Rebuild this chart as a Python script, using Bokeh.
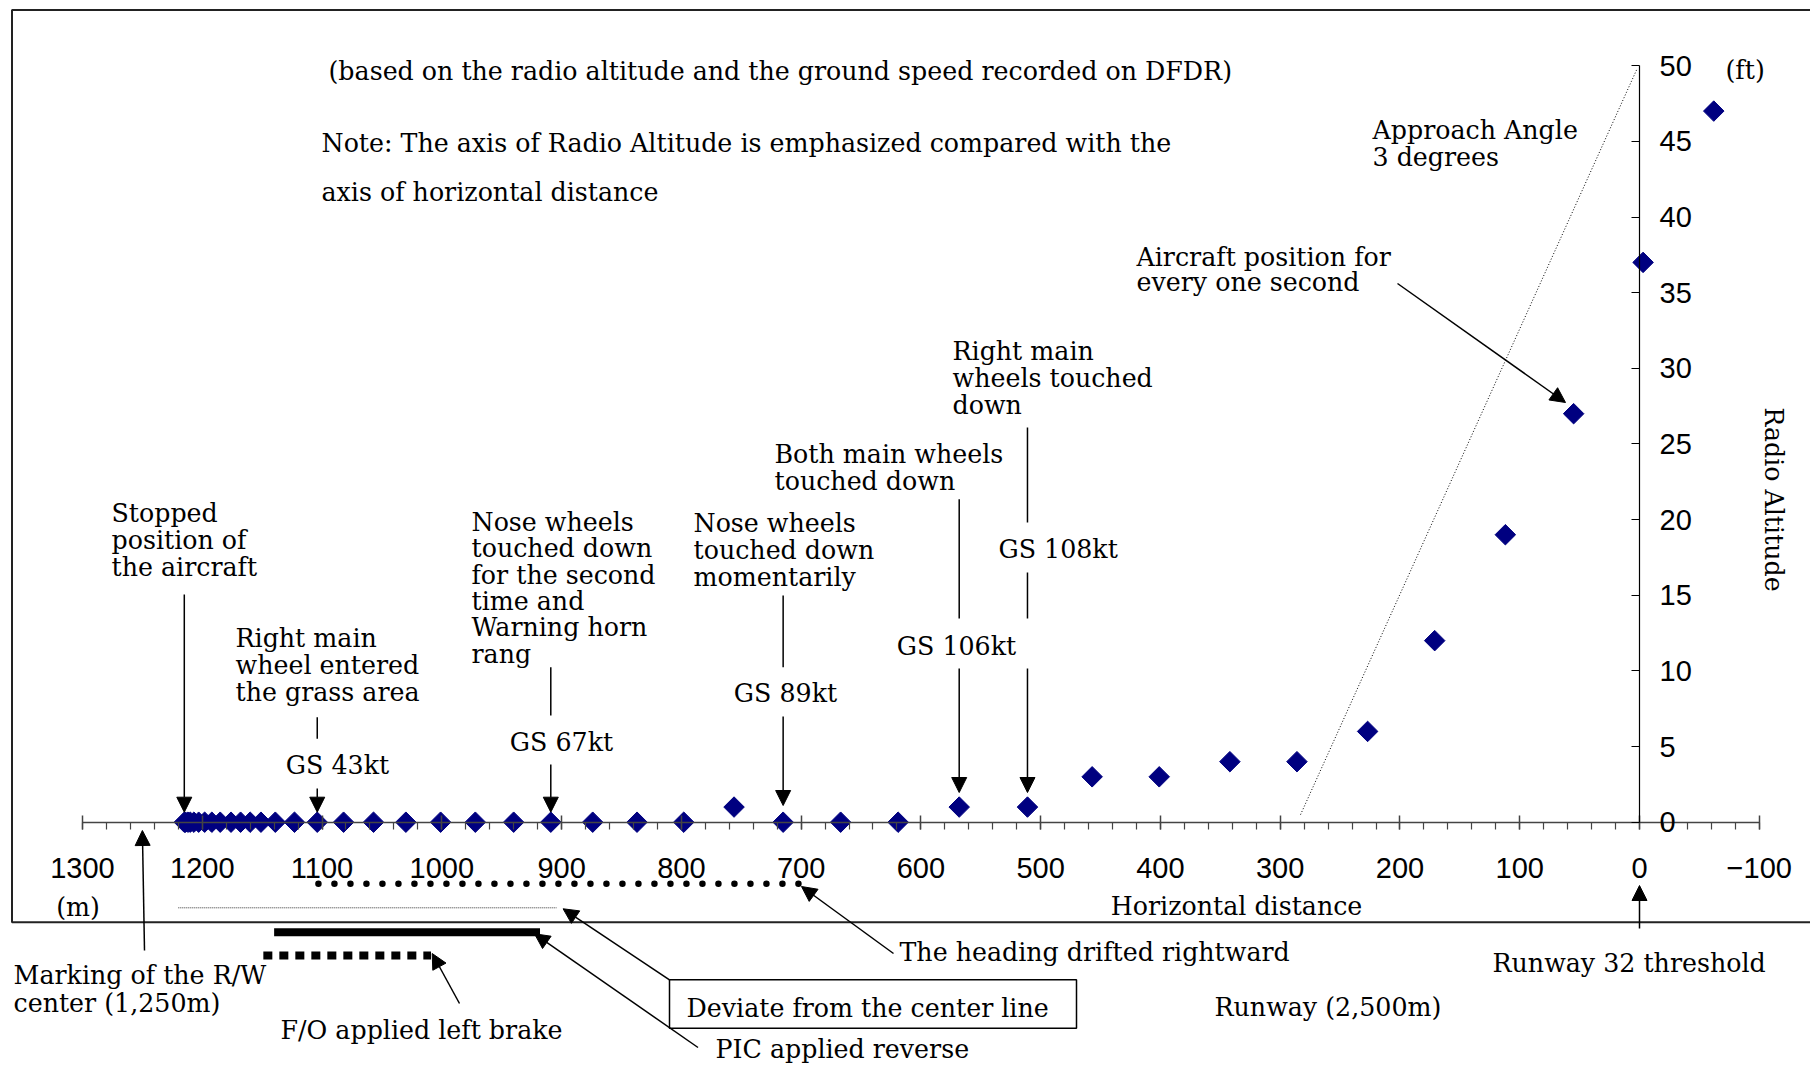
import math
from bokeh.plotting import figure
from bokeh.models import (Range1d, LinearAxis, SingleIntervalTicker, Label, Arrow,
                          NormalHead, BoxAnnotation)
from bokeh.embed import file_html
from bokeh.resources import INLINE

# ------------------------------------------------------------------ data
# aircraft position for every one second (horizontal distance from the
# runway 32 threshold, m) and radio altitude (ft)
distance_m = [-62, -3, 55, 112, 171, 227, 286, 342, 401, 457, 511, 568, 619,
              667, 715, 756, 798, 837, 874, 909, 940, 972, 1001, 1030, 1057,
              1082, 1104, 1123, 1139, 1151, 1160, 1168, 1176, 1185, 1192,
              1198, 1203, 1207, 1210, 1212, 1214, 1215]
radio_alt_ft = [47, 37, 27, 19, 12, 6, 4, 4, 3, 3, 1, 1, 0,
                0, 0, 1, 0, 0, 0, 0, 0, 0, 0, 0, 0,
                0, 0, 0, 0, 0, 0, 0, 0, 0, 0,
                0, 0, 0, 0, 0, 0, 0]

x_ticks = list(range(-100, 1301, 100))
y_ticks = list(range(0, 51, 5))

# approach angle 3 degrees reference line
approach_x = [283, 2]
approach_y = [0.5, 49.8]

# events marked along the ground roll (m)
event_x = [1215, 1104, 909, 715, 568, 511]
event_gs = ["", "GS 43kt", "GS 67kt", "GS 89kt", "GS 106kt", "GS 108kt"]

# ranges along the runway (m)
heading_drift_m = [1103, 702]
deviate_m = [1220, 904]
pic_reverse_m = [1140, 918]
fo_brake_m = [1149, 1009]
rw_center_m = 1250
threshold_m = 0

# ------------------------------------------------------------------ layout helpers
# pixel position of the axes origin and scale (page pixels)
X_ZERO, PX_PER_M = 1639.0, 1.1977
Y_ZERO, PX_PER_FT = 821.7, 15.13


def X(px):
    return (X_ZERO - px) / PX_PER_M


def Y(py):
    return (Y_ZERO - py) / PX_PER_FT


W, H = 1810, 1065
p = figure(width=W, height=H, output_backend="svg", toolbar_location=None,
           x_range=Range1d(X(0), X(W)), y_range=Range1d(Y(H), Y(0)),
           x_axis_location=None, y_axis_location=None,
           min_border_left=0, min_border_top=0,
           min_border_right=0, min_border_bottom=0)
p.xgrid.grid_line_color = None
p.ygrid.grid_line_color = None
p.outline_line_color = None
p.background_fill_color = "white"
p.border_fill_color = "white"

TICK_FONT = "Liberation Sans"
SERIF = "DejaVu Serif"

xaxis = LinearAxis(ticker=SingleIntervalTicker(interval=100, num_minor_ticks=5),
                   bounds=(-100, 1300), fixed_location=0,
                   axis_line_color="#444444", axis_line_width=1.5,
                   major_tick_line_color="#444444", major_tick_line_width=1.5,
                   minor_tick_line_color="#444444", minor_tick_line_width=1.2,
                   major_tick_in=7, major_tick_out=7, minor_tick_in=0, minor_tick_out=7,
                   major_label_text_font=TICK_FONT, major_label_text_font_size="29px",
                   major_label_text_color="black", major_label_standoff=29,
                   major_label_overrides={-100: "\u2212100"})
p.add_layout(xaxis, "below")

yaxis = LinearAxis(ticker=SingleIntervalTicker(interval=5, num_minor_ticks=0),
                   bounds=(0, 50), fixed_location=0,
                   axis_line_color="black", axis_line_width=1.2,
                   major_tick_line_color="black", major_tick_line_width=1.2,
                   major_tick_in=8, major_tick_out=0,
                   major_label_text_font=TICK_FONT, major_label_text_font_size="29px",
                   major_label_text_color="black", major_label_standoff=20)
p.add_layout(yaxis, "right")

# outer frame of the figure
p.add_layout(BoxAnnotation(left=X(11.5), right=X(1950), top=Y(9.5), bottom=Y(921.7),
                           fill_alpha=0, line_alpha=1, line_color="#222222", line_width=2))

# approach line
p.line(approach_x, approach_y, line_color="black", line_width=1, line_dash="1 2")

# data points
p.scatter(distance_m, radio_alt_ft, marker="square", angle=math.pi / 4, size=14.5,
          fill_color="#000080", line_color="#000080")


def txt(s, px, py, size="25.3px", align="left", font=SERIF, angle=0.0):
    p.add_layout(Label(x=X(px), y=Y(py), text=s, text_font=font, text_font_size=size,
                       text_align=align, text_baseline="middle", angle=angle,
                       text_color="black"))


def lines(block, px, py0, step=26.8):
    for i, s in enumerate(block):
        txt(s, px, py0 + i * step)


def seg(x0, y0, x1, y1, width=1.5, color="black"):
    p.add_layout(Arrow(end=None, x_start=x0, y_start=y0, x_end=x1, y_end=y1,
                       line_color=color, line_width=width))


def arrow(x0, y0, x1, y1, width=1.5, size=15):
    p.add_layout(Arrow(end=NormalHead(size=size, fill_color="black", line_color="black"),
                       x_start=x0, y_start=y0, x_end=x1, y_end=y1,
                       line_color="black", line_width=width))


# ------------------------------------------------------------------ top notes
txt("(based on the radio altitude and the ground speed recorded on DFDR)", 328, 71)
txt("Note: The axis of Radio Altitude is emphasized compared with the", 321, 143)
txt("axis of horizontal distance", 321, 192)

lines(["Approach Angle", "3 degrees"], 1372, 130)
lines(["Aircraft position for", "every one second"], 1136, 256.7, step=25)
arrow(X(1397), Y(283), X(1565), Y(402))

# axis titles
txt("(ft)", 1725, 70)
txt("Radio Altitude", 1773, 499, angle=-math.pi / 2, align="center")
txt("Horizontal distance", 1236, 906, align="center")
txt("(m)", 77.5, 907, align="center")

# ------------------------------------------------------------------ events
ex = event_x
# stopped position
lines(["Stopped", "position of", "the aircraft"], 111, 513)
arrow(ex[0], Y(594), ex[0], Y(811.7))
# right main wheel entered the grass area (GS 43kt)
lines(["Right main", "wheel entered", "the grass area"], 235, 638)
seg(ex[1], Y(716.7), ex[1], Y(738.3))
txt(event_gs[1], 337, 765, align="center")
arrow(ex[1], Y(788), ex[1], Y(811.7))
# nose wheels second time (GS 67kt)
lines(["Nose wheels", "touched down", "for the second", "time and", "Warning horn", "rang"],
      471, 522, step=26.3)
seg(ex[2], Y(666.7), ex[2], Y(715))
txt(event_gs[2], 561, 742, align="center")
arrow(ex[2], Y(764), ex[2], Y(811.7))
# nose wheels momentarily (GS 89kt)
lines(["Nose wheels", "touched down", "momentarily"], 693, 523)
seg(ex[3], Y(595), ex[3], Y(666.7))
txt(event_gs[3], 785, 693, align="center")
arrow(ex[3], Y(716), ex[3], Y(805))
# both main wheels (GS 106kt)
lines(["Both main wheels", "touched down"], 774, 454)
seg(ex[4], Y(498.7), ex[4], Y(618))
txt(event_gs[4], 956, 646, align="center")
arrow(ex[4], Y(668), ex[4], Y(792))
# right main wheels touched down (GS 108kt)
lines(["Right main", "wheels touched", "down"], 952, 351)
seg(ex[5], Y(427), ex[5], Y(522))
txt(event_gs[5], 998, 549)
seg(ex[5], Y(572), ex[5], Y(618))
arrow(ex[5], Y(668), ex[5], Y(792))

# ------------------------------------------------------------------ runway bars
p.segment(x0=[heading_drift_m[0]], y0=[Y(883.3)], x1=[heading_drift_m[1]], y1=[Y(883.3)],
          line_color="black", line_width=6.5, line_dash="0 16", line_cap="round")
p.segment(x0=[deviate_m[0]], y0=[Y(907.3)], x1=[deviate_m[1]], y1=[Y(907.3)],
          line_color="#333333", line_width=1, line_dash="1 1")
p.segment(x0=[pic_reverse_m[0]], y0=[Y(931.7)], x1=[pic_reverse_m[1]], y1=[Y(931.7)],
          line_color="black", line_width=8)
p.segment(x0=[fo_brake_m[0]], y0=[Y(955)], x1=[fo_brake_m[1]], y1=[Y(955)],
          line_color="black", line_width=8, line_dash="9 7")

# ------------------------------------------------------------------ lower notes
txt("The heading drifted rightward", 899, 952)
arrow(X(893), Y(953), X(801), Y(886))

p.add_layout(BoxAnnotation(left=X(669), right=X(1076), top=Y(979.3), bottom=Y(1027.7),
                           fill_alpha=0, line_alpha=1, line_color="black", line_width=1.5))
txt("Deviate from the center line", 686, 1008)
arrow(X(669), Y(979.3), X(562.6), Y(908.3))

txt("PIC applied reverse", 715, 1049)
arrow(X(697.5), Y(1047), X(534), Y(933.3))

txt("F/O applied left brake", 280, 1030)
arrow(X(459), Y(1003), X(431.7), Y(953))

txt("Marking of the R/W", 13, 975)
txt("center (1,250m)", 13, 1003)
arrow(X(144), Y(950), rw_center_m, Y(830))

txt("Runway (2,500m)", 1214, 1007)
txt("Runway 32 threshold", 1492, 963)
arrow(threshold_m, Y(928), threshold_m, Y(885))

open("out.html", "w").write(file_html(p, INLINE))
